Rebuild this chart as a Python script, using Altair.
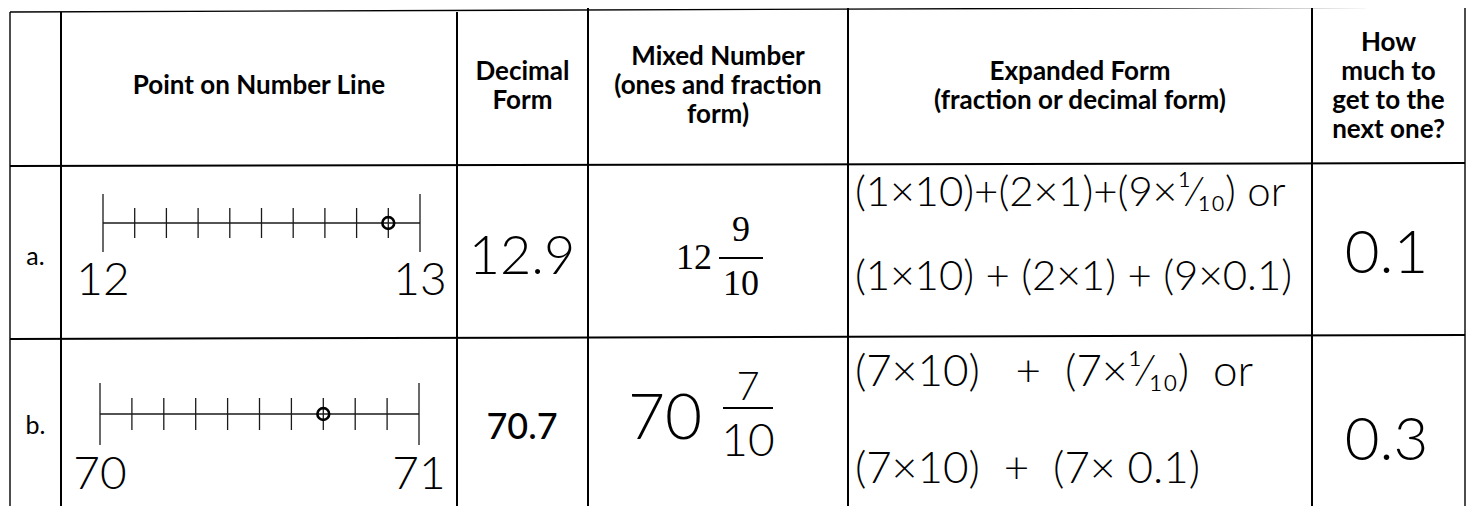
import altair as alt
import pandas as pd

NB = "\u00a0"

# ---------------- data ----------------
HEADERS = [
    "",
    "Point on Number Line",
    "Decimal\nForm",
    "Mixed Number\n(ones and fraction\nform)",
    "Expanded Form\n(fraction or decimal form)",
    "How\nmuch to\nget to the\nnext one?",
]
ROW_LABELS = ["a.", "b."]
LINE_START = [12, 70]
LINE_END = [13, 71]
DIVISIONS = 10
POINTS = [12.9, 70.7]
DECIMALS = ["12.9", "70.7"]
DECIMAL_HANDWRITTEN = [True, False]
MIXED_WHOLE = ["12", "70"]
MIXED_NUM = ["9", "7"]
MIXED_DEN = ["10", "10"]
MIXED_HANDWRITTEN = [False, True]
EXPANDED_1 = ["(1×10)+(2×1)+(9×¹⁄₁₀) or",
              "(7×10)" + NB * 2 + " +" + NB * 2 + "(7×¹⁄₁₀)" + NB * 2 + "or"]
EXPANDED_2 = ["(1×10) + (2×1) + (9×0.1)",
              "(7×10)" + NB + " +" + NB + " (7×" + NB + "0.1)"]
TO_NEXT = ["0.1", "0.3"]

# ---------------- layout (reference pixel frame) ----------------
W, H = 1458, 498
X0, X1 = 8, 8 + W
Y0, Y1 = 8, 8 + H
COL_X = [10, 61, 457, 588, 848, 1312, 1465]
TABLE_BOTTOM = 510
H_LINES = [(12, 7), (166, 163), (339, 335)]  # (left y, right y)
HEADER_Y = 86
HEADER_LH = 29
ROW_Y = [257, 426]
NL_X0 = [103, 100]
NL_X1 = [420, 419]
NL_Y = [223, 414]
NL_END_HALF = [29, 31]
NL_MINOR_HALF = [15, 16]
NL_LABEL_Y = [281, 475]
MIX_TYPED = dict(whole_x=694, bar_x0=719, bar_x1=763, num_dy=-28, den_dy=26, bar_dy=0)
MIX_HAND = dict(whole_x=665, bar_x0=723, bar_x1=773, num_dy=-20, den_dy=34, bar_dy=-12)
EXP_X = 855
EXP_Y = [[193, 277], [373, 470]]
EXP_SIZE = [42, 44]
NEXT_Y = [255, 442]

HAND = dict(font="Lato", fontWeight=300, color="#000000")
TYPED = dict(font="Lato", color="#000000")


def sx():
    return alt.Scale(domain=[X0, X1], nice=False, zero=False)


def sy():
    return alt.Scale(domain=[Y0, Y1], reverse=True, nice=False, zero=False)


def text_layer(df, **kw):
    base = dict(align="center", baseline="middle")
    base.update(kw)
    return alt.Chart(df).mark_text(**base).encode(
        x=alt.X("x:Q", scale=sx(), axis=None),
        y=alt.Y("y:Q", scale=sy(), axis=None),
        text="t:N",
    )


layers = []

# ---- grid lines ----
segs = []
for i, cx in enumerate(COL_X):
    outer = i in (0, len(COL_X) - 1)
    segs.append(dict(x=cx, x2=cx, y=H_LINES[0][0] if i < 3 else H_LINES[0][1],
                     y2=TABLE_BOTTOM, w=1.4 if outer else 2.0))
for yl, yr in H_LINES:
    segs.append(dict(x=COL_X[0], x2=COL_X[-1], y=yl, y2=yr, w=1.4 if yl == H_LINES[0][0] else 2.0))
grid = pd.DataFrame(segs)
layers.append(
    alt.Chart(grid).mark_rule(color="#000000").encode(
        x=alt.X("x:Q", scale=sx(), axis=None),
        x2="x2:Q",
        y=alt.Y("y:Q", scale=sy(), axis=None),
        y2="y2:Q",
        strokeWidth=alt.StrokeWidth("w:Q", scale=None),
    )
)

# ---- header (first line placed so the block is centred) ----
hdr = pd.DataFrame([
    dict(x=(COL_X[i] + COL_X[i + 1]) / 2,
         y=HEADER_Y - (h.count("\n")) * HEADER_LH / 2,
         t=h)
    for i, h in enumerate(HEADERS) if h
])
layers.append(text_layer(hdr, fontSize=26, fontWeight="bold", lineBreak="\n", lineHeight=HEADER_LH, **TYPED))

# ---- row labels ----
rl = pd.DataFrame([dict(x=(COL_X[0] + COL_X[1]) / 2, y=ROW_Y[r], t=lab) for r, lab in enumerate(ROW_LABELS)])
layers.append(text_layer(rl, fontSize=25, **TYPED))

# ---- decimal form ----
dec_x = (COL_X[2] + COL_X[3]) / 2 - 0.5
for r, d in enumerate(DECIMALS):
    df = pd.DataFrame([dict(x=dec_x, y=ROW_Y[r] + (1 if r == 0 else 2), t=d)])
    if DECIMAL_HANDWRITTEN[r]:
        layers.append(text_layer(df, fontSize=54, **HAND))
    else:
        layers.append(text_layer(df, fontSize=36, fontWeight=500, **TYPED))

# ---- mixed number ----
for r in range(2):
    lay = MIX_HAND if MIXED_HANDWRITTEN[r] else MIX_TYPED
    cy = ROW_Y[r] + (1 if r == 0 else -6)
    fx = (lay["bar_x0"] + lay["bar_x1"]) / 2
    whole = pd.DataFrame([dict(x=lay["whole_x"], y=cy, t=MIXED_WHOLE[r])])
    num = pd.DataFrame([dict(x=fx, y=cy + lay["bar_dy"] + lay["num_dy"], t=MIXED_NUM[r])])
    den = pd.DataFrame([dict(x=fx, y=cy + lay["bar_dy"] + lay["den_dy"], t=MIXED_DEN[r])])
    bar = pd.DataFrame([dict(x=lay["bar_x0"], x2=lay["bar_x1"], y=cy + lay["bar_dy"])])
    if MIXED_HANDWRITTEN[r]:
        layers.append(text_layer(whole, fontSize=64, **HAND))
        layers.append(text_layer(num, fontSize=40, **HAND))
        layers.append(text_layer(den, fontSize=46, **HAND))
        bw = 1.8
    else:
        serif = dict(font="Liberation Serif", color="#000000")
        layers.append(text_layer(whole, fontSize=36, **serif))
        layers.append(text_layer(num, fontSize=36, **serif))
        layers.append(text_layer(den, fontSize=36, **serif))
        bw = 1.8
    layers.append(
        alt.Chart(bar).mark_rule(color="#000000", strokeWidth=bw).encode(
            x=alt.X("x:Q", scale=sx(), axis=None), x2="x2:Q",
            y=alt.Y("y:Q", scale=sy(), axis=None),
        )
    )

# ---- expanded form ----
for r in range(2):
    exp = pd.DataFrame([
        dict(x=EXP_X, y=EXP_Y[r][k], t=line)
        for k, line in enumerate([EXPANDED_1[r], EXPANDED_2[r]])
    ])
    layers.append(text_layer(exp, fontSize=EXP_SIZE[r], align="left", **HAND))

# ---- how much to the next one ----
nx = pd.DataFrame([dict(x=(COL_X[5] + COL_X[6]) / 2 - 2, y=NEXT_Y[r], t=v) for r, v in enumerate(TO_NEXT)])
layers.append(text_layer(nx, fontSize=60, **HAND))

# ---- number lines (own value scale for each row) ----
for r in range(2):
    lo, hi = LINE_START[r], LINE_END[r]
    unit = (NL_X1[r] - NL_X0[r]) / (hi - lo)
    d0 = lo - (NL_X0[r] - X0) / unit
    d1 = d0 + W / unit
    vs = alt.Scale(domain=[d0, d1], nice=False, zero=False)
    ticks = []
    for k in range(DIVISIONS + 1):
        v = lo + (hi - lo) * k / DIVISIONS
        half = NL_END_HALF[r] if k in (0, DIVISIONS) else NL_MINOR_HALF[r]
        ticks.append(dict(v=v, y=NL_Y[r] - half, y2=NL_Y[r] + half))
    tdf = pd.DataFrame(ticks)
    layers.append(
        alt.Chart(tdf).mark_rule(color="#1a1a1a", strokeWidth=1.3).encode(
            x=alt.X("v:Q", scale=vs, axis=None),
            y=alt.Y("y:Q", scale=sy(), axis=None), y2="y2:Q",
        )
    )
    ldf = pd.DataFrame([dict(v=lo, v2=hi, y=NL_Y[r])])
    layers.append(
        alt.Chart(ldf).mark_rule(color="#1a1a1a", strokeWidth=1.3).encode(
            x=alt.X("v:Q", scale=vs, axis=None), x2="v2:Q",
            y=alt.Y("y:Q", scale=sy(), axis=None),
        )
    )
    pdf = pd.DataFrame([dict(v=POINTS[r], y=NL_Y[r])])
    layers.append(
        alt.Chart(pdf).mark_point(shape="circle", filled=False, size=140, strokeWidth=2.6,
                                  color="#000000", opacity=1).encode(
            x=alt.X("v:Q", scale=vs, axis=None),
            y=alt.Y("y:Q", scale=sy(), axis=None),
        )
    )
    labdf = pd.DataFrame([dict(v=lo, y=NL_LABEL_Y[r], t=str(lo)), dict(v=hi, y=NL_LABEL_Y[r], t=str(hi))])
    layers.append(
        alt.Chart(labdf).mark_text(align="center", baseline="middle", fontSize=46, **HAND).encode(
            x=alt.X("v:Q", scale=vs, axis=None),
            y=alt.Y("y:Q", scale=sy(), axis=None),
            text="t:N",
        )
    )

chart = (
    alt.layer(*layers)
    .resolve_scale(x="independent")
    .properties(width=W, height=H, padding=0, autosize=alt.AutoSizeParams(type="none"), background="white")
    .configure_view(stroke=None)
)

chart.save("out.html", embed_options={"renderer": "svg", "actions": False})
